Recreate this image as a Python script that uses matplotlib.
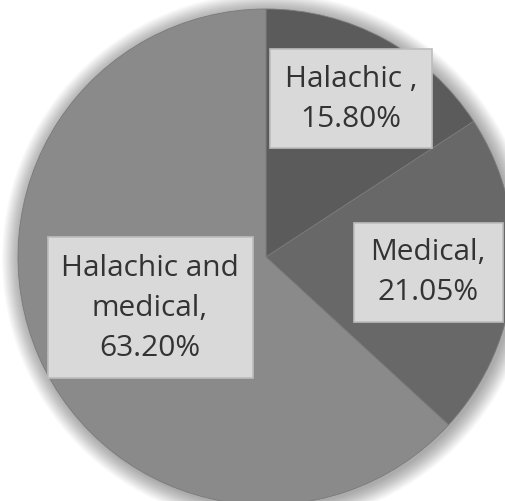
import matplotlib.pyplot as plt
from matplotlib.patches import Circle, Rectangle

# Data
labels = ["Halachic ,", "Medical,", "Halachic and\nmedical,"]
shares = [15.80, 21.05, 63.20]
colors = ["#5b5b5b", "#686868", "#8a8a8a"]

# label boxes (pixel layout, y from the bottom)
boxes = [(270, 353, 162, 99), (354, 179, 149, 99), (48, 123, 205, 141)]
text_pos = [(351, 402), (428, 229), (150, 193)]

fig = plt.figure(figsize=(5.06, 5.01), dpi=100)
ax = fig.add_axes([0, 0, 1, 1])

cx, cy, r = 266, 244, 248

# soft shadow round the pie
for k in range(18, 0, -1):
    ax.add_patch(Circle((cx + 2, cy - 2), r + k, color="black", alpha=0.018, lw=0, zorder=0))

ax.pie(shares, colors=colors, startangle=90, counterclock=False,
       center=(cx, cy), radius=r, wedgeprops=dict(linewidth=0.6, edgecolor="#7a7a7a"),
       frame=True)
ax.set_xlim(0, 506)
ax.set_ylim(0, 501)
ax.set_aspect("equal")
ax.axis("off")

for lab, val, (bx, by, bw, bh), (tx, ty) in zip(labels, shares, boxes, text_pos):
    ax.add_patch(Rectangle((bx, by), bw, bh, facecolor="#d9d9d9", edgecolor="#bdbdbd",
                           lw=1.2, zorder=5))
    ax.text(tx, ty, f"{lab}\n{val:.2f}%", ha="center", va="center", multialignment="center",
            fontsize=21.5, color="#333333", family="Open Sans", linespacing=1.5, zorder=6)

fig.savefig("out.png", dpi=100, facecolor="white")
